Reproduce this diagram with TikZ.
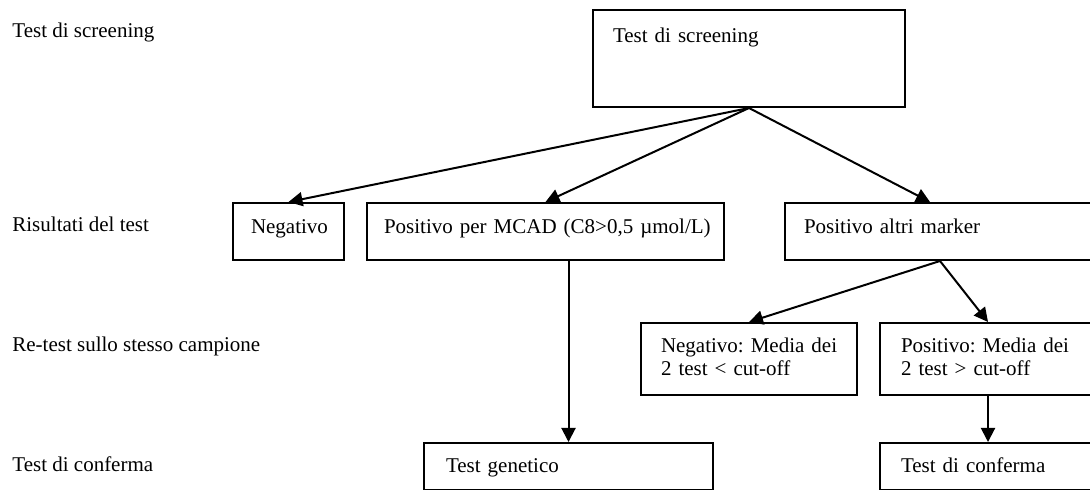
\documentclass[tikz,border=0pt]{standalone}
\usepackage{fontspec}
\setmainfont{Liberation Serif}
\usetikzlibrary{arrows.meta}
\tikzset{
  box/.style={draw,line width=1pt,anchor=north west,inner ysep=0pt,align=left,
    font=\fontsize{10.5}{11.5}\selectfont,execute at begin node=\frenchspacing},
  lvl/.style={anchor=base west,inner sep=0pt,font=\fontsize{10.5}{11.5}\selectfont},
  arr/.style={line width=1pt,-{Triangle[length=7pt,width=7pt]}}
}
\begin{document}
\begin{tikzpicture}[x=0.5pt,y=-0.5pt]
\pgfmathsetmacro{\klx}{12}
\useasboundingbox (0,0) rectangle (1090,490);
\clip (0,0) rectangle (1090,490);
% livelli a sinistra
\foreach \kn/\ky/\ylb in {1/38/{Test di screening},2/232/{Risultati del test},3/352/{Re-test sullo stesso campione},4/472/{Test di conferma}}{\node[lvl](lv\kn) at (\klx,\ky){\ylb};}
% riquadri
\node[box,text width=136pt,inner xsep=10pt,text height=16.5pt,text depth=32pt](scr) at (592,9){Test di screening};
\node[box,align=center,text width=37.5pt,inner xsep=9pt,text height=15.5pt,text depth=13pt](neg) at (232,202){Negativo};
\node[box,text width=161.5pt,inner xsep=8.5pt,text height=15.5pt,text depth=13pt](mcad) at (366,202){\mbox{Positivo per MCAD (C8>0,5 µmol/L)}};
\node[box,text width=151pt,inner xsep=9.5pt,text height=15.5pt,text depth=13pt](alt) at (784,202){Positivo altri marker};
\node[box,text width=88pt,inner xsep=10pt,text height=15pt,text depth=21pt](negm) at (640,322){\mbox{Negativo: Media dei}\\2 test < cut-off};
\node[box,text width=89pt,inner xsep=10.5pt,text height=15pt,text depth=21pt](posm) at (879,322){\mbox{Positivo: Media dei}\\2 test > cut-off};
\node[box,text width=122.5pt,inner xsep=11pt,text height=15pt,text depth=8.5pt](gen) at (423,442){Test genetico};
\node[box,text width=89pt,inner xsep=10.5pt,text height=15pt,text depth=8.5pt](conf) at (879,442){Test di conferma};
% frecce
\draw[arr](scr.south)--(neg.north);
\draw[arr](scr.south)--(mcad.north);
\draw[arr](scr.south)--([xshift=73pt]alt.north west);
\draw[arr]([xshift=78pt]alt.south west)--(negm.north);
\draw[arr]([xshift=78pt]alt.south west)--([xshift=54.5pt]posm.north west);
\draw[arr]([xshift=54.5pt]posm.south west)--([xshift=54.5pt]conf.north west);
\draw[arr](mcad.south -| gen.north)--(gen.north);
\end{tikzpicture}
\end{document}
